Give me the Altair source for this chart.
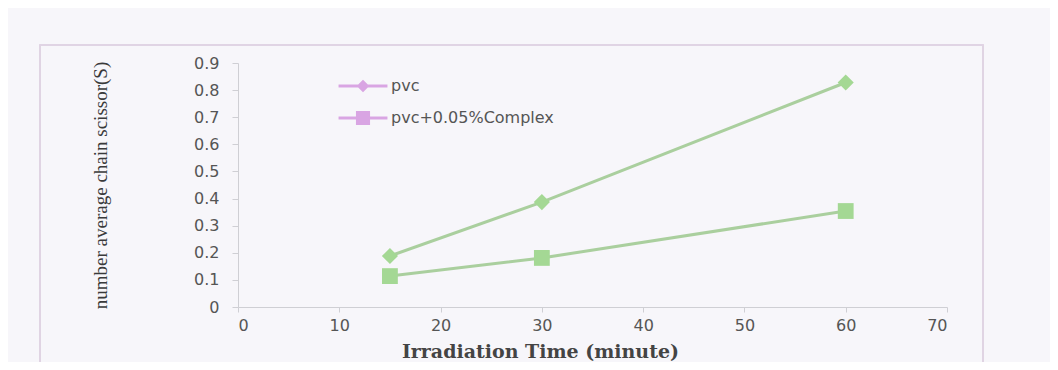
import altair as alt
import pandas as pd

times = [15, 30, 60]
series_names = ["pvc", "pvc+0.05%Complex"]
pvc_values = [0.188, 0.387, 0.828]
complex_values = [0.114, 0.181, 0.354]
x_ticks = [0, 10, 20, 30, 40, 50, 60, 70]
y_ticks = [0, 0.1, 0.2, 0.3, 0.4, 0.5, 0.6, 0.7, 0.8, 0.9]

rows = []
for t, v in zip(times, pvc_values):
    rows.append({"time": t, "value": v, "series": series_names[0]})
for t, v in zip(times, complex_values):
    rows.append({"time": t, "value": v, "series": series_names[1]})
df = pd.DataFrame(rows)

LINE = "#aacf9e"
PINK = "#d9a5e3"
LABEL = "#555555"
AXIS = "#cfcfd4"
TICKFONT = "DejaVu Sans"

x_enc = alt.X(
    "time:Q",
    scale=alt.Scale(domain=[0, 70], nice=False),
    axis=alt.Axis(
        values=x_ticks,
        title="Irradiation Time (minute)",
        grid=False,
        domainColor=AXIS,
        tickColor=AXIS,
        tickSize=5,
        labelPadding=5,
        labelFontSize=16,
        labelColor=LABEL,
        labelFont=TICKFONT,
        titleFont="DejaVu Serif",
        titleFontWeight="bold",
        titleFontSize=19,
        titleColor="#444444",
        titleX=302,
        titleY=50,
        titleBaseline="alphabetic",
        titleAlign="center",
    ),
)
y_enc = alt.Y(
    "value:Q",
    scale=alt.Scale(domain=[0, 0.9], nice=False),
    axis=alt.Axis(
        values=y_ticks,
        labelExpr="datum.value == 0 ? '0' : format(datum.value, '.1f')",
        title="number average chain  scissor(S)",
        grid=False,
        domainColor=AXIS,
        tickColor=AXIS,
        tickSize=6,
        labelPadding=13,
        labelFontSize=16,
        labelColor=LABEL,
        labelFont=TICKFONT,
        titleFont="Liberation Serif",
        titleFontWeight="normal",
        titleFontSize=19,
        titleColor="#3a3a3a",
        titleAngle=270,
        titleX=-138,
        titleY=122,
        titleAlign="center",
        titleBaseline="middle",
    ),
)

base = alt.Chart(df)

frame = base.mark_rect(fill=None, stroke="#e0d4e3", strokeWidth=1.2).encode(
    x=alt.value(-198), x2=alt.value(745), y=alt.value(-18), y2=alt.value(400)
)

lines = base.mark_line(strokeWidth=3, color=LINE).encode(
    x=x_enc, y=y_enc, detail="series:N"
)

points = base.mark_point(filled=True, opacity=1, color="#a4d894").encode(
    x=x_enc,
    y=y_enc,
    shape=alt.Shape(
        "series:N",
        scale=alt.Scale(domain=series_names, range=["diamond", "square"]),
        legend=None,
    ),
    size=alt.Size(
        "series:N",
        scale=alt.Scale(domain=series_names, range=[260, 250]),
        legend=None,
    ),
)

# legend glyphs: a thin bar (line) through a marker, as filled paths
bar = "M-1.63,-0.1L1.63,-0.1L1.63,0.1L-1.63,0.1Z"
diamond_path = bar + "M0,-0.42L0.42,0L0,0.42L-0.42,0Z"
square_path = bar + "M-0.47,-0.47L0.47,-0.47L0.47,0.47L-0.47,0.47Z"

legend_layer = (
    base.transform_filter("datum.time < 0")
    .transform_calculate(entry="datum.series")
    .mark_point(filled=True, color=PINK, opacity=1)
    .encode(
        x=x_enc,
        y=y_enc,
        shape=alt.Shape(
            "entry:N",
            scale=alt.Scale(domain=series_names, range=[diamond_path, square_path]),
            legend=alt.Legend(
                title=None,
                orient="none",
                legendX=109,
                legendY=7,
                padding=0,
                symbolSize=900,
                symbolFillColor=PINK,
                symbolOpacity=1,
                labelOffset=12,
                labelFontSize=16,
                labelFont=TICKFONT,
                labelColor=LABEL,
                rowPadding=6,
                labelLimit=400,
            ),
        ),
    )
)

chart = (
    alt.layer(frame, lines, points, legend_layer)
    .resolve_scale(shape="independent", size="independent")
    .properties(
        width=709,
        height=244,
        autosize=alt.AutoSizeParams(type="none"),
        padding={"left": 230, "top": 55, "right": 103, "bottom": 55},
        background="#f7f6fa",
    )
    .configure_view(stroke=None)
)

chart.save("out.html", embed_options={"renderer": "svg", "actions": False})
